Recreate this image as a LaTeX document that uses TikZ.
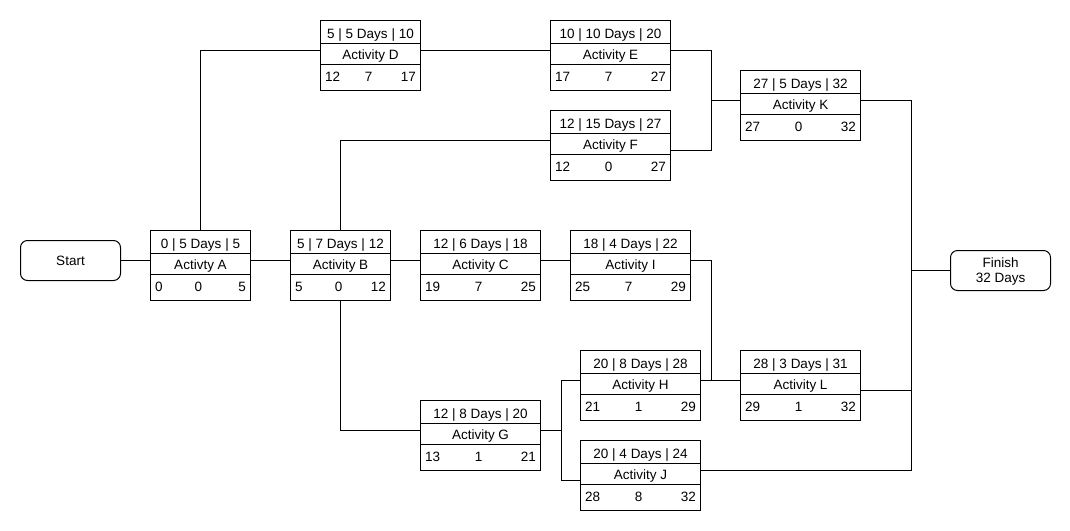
\documentclass[tikz,border=0pt]{standalone}
\usepackage{fontspec}
\setmainfont{Liberation Sans}
\tikzset{
  box/.style={draw, line width=1pt, inner sep=0pt, minimum height=70pt, anchor=north west},
  term/.style={draw, line width=1pt, rounded corners=7pt, minimum width=100pt, minimum height=40pt, inner sep=0pt, anchor=north west},
  txt/.style={inner sep=0pt, font=\fontsize{13.5}{15.5}\selectfont},
  conn/.style={line width=1pt},
}
\newcommand\act[9]{%
  \node[box, minimum width=#4pt] (#1) at (#2,#3) {};
  \draw[conn] ([yshift=-23pt]#1.north west) -- ([yshift=-23pt]#1.north east);
  \draw[conn] ([yshift=-44pt]#1.north west) -- ([yshift=-44pt]#1.north east);
  \node[txt, anchor=base] (#1t) at ([yshift=-18.5pt]#1.north) {#5};
  \node[txt, anchor=base] (#1m) at ([yshift=-39.5pt]#1.north) {#6};
  \node[txt, anchor=base west] (#1l) at ([xshift=5pt,yshift=-61pt]#1.north west) {#7};
  \node[txt, anchor=base] (#1c) at ([xshift=-2pt,yshift=-61pt]#1.north) {#8};
  \node[txt, anchor=base east] (#1r) at ([xshift=-5pt,yshift=-61pt]#1.north east) {#9};
}
\begin{document}
\begin{tikzpicture}[x=1pt,y=-1pt]
\useasboundingbox (0,0) rectangle (1070,530);
\fill[white] (0,0) rectangle (1070,530);

\node[term] (Start) at (20,240) {};
\node[txt] (Startt) at (Start.center) {Start};
\node[term] (Finish) at (950,250) {};
\node[txt, align=center] (Finisht) at ([yshift=-1pt]Finish.center) {Finish\\32 Days};

\act{A}{150}{230}{100}{0 | 5 Days | 5}{Activty A}{0}{0}{5}
\act{B}{290}{230}{100}{5 | 7 Days | 12}{Activity B}{5}{0}{12}
\act{C}{420}{230}{120}{12 | 6 Days | 18}{Activity C}{19}{7}{25}
\act{I}{570}{230}{120}{18 | 4 Days | 22}{Activity I}{25}{7}{29}
\act{D}{320}{20}{100}{5 | 5 Days | 10}{Activity D}{12}{7}{17}
\act{E}{550}{20}{120}{10 | 10 Days | 20}{Activity E}{17}{7}{27}
\act{F}{550}{110}{120}{12 | 15 Days | 27}{Activity F}{12}{0}{27}
\act{K}{740}{70}{120}{27 | 5 Days | 32}{Activity K}{27}{0}{32}
\act{H}{580}{350}{120}{20 | 8 Days | 28}{Activity H}{21}{1}{29}
\act{L}{740}{350}{120}{28 | 3 Days | 31}{Activity L}{29}{1}{32}
\act{G}{420}{400}{120}{12 | 8 Days | 20}{Activity G}{13}{1}{21}
\act{J}{580}{440}{120}{20 | 4 Days | 24}{Activity J}{28}{8}{32}

\draw[conn] (Start.east) -- (Start.east -| A.west);
\draw[conn] ([yshift=-30pt]A.north east) -- ([yshift=-30pt]B.north west);
\draw[conn] (A.north) |- ([yshift=-30pt]D.north west);
\draw[conn] ([yshift=-30pt]D.north east) -- ([yshift=-30pt]E.north west);
\draw[conn] ([yshift=-30pt]E.north east) -- ++(40,0) |- ([yshift=-30pt]K.north west);
\draw[conn] ([yshift=-40pt]F.north east) -- ++(40,0) |- ([yshift=-30pt]K.north west);
\draw[conn] (B.north) |- ([yshift=-30pt]F.north west);
\draw[conn] ([yshift=-30pt]B.north east) -- ([yshift=-30pt]C.north west);
\draw[conn] ([yshift=-30pt]C.north east) -- ([yshift=-30pt]I.north west);
\draw[conn] ([yshift=-30pt]I.north east) -- ++(20,0) |- ([yshift=-30pt]L.north west);
\draw[conn] ([yshift=-30pt]H.north east) -- ([yshift=-30pt]L.north west);
\draw[conn] (B.south) |- ([yshift=-30pt]G.north west);
\draw[conn] ([yshift=-30pt]G.north east) -- ++(20,0) |- ([yshift=-30pt]H.north west);
\draw[conn] ([yshift=-30pt]G.north east) -- ++(20,0) |- ([yshift=-40pt]J.north west);
\draw[conn] ([yshift=-30pt]K.north east) -- ++(50,0) |- (Finish.west);
\draw[conn] ([yshift=-40pt]L.north east) -- ++(50,0) |- (Finish.west);
\draw[conn] ([yshift=-30pt]J.north east) -- ++(210,0) |- (Finish.west);
\end{tikzpicture}
\end{document}
